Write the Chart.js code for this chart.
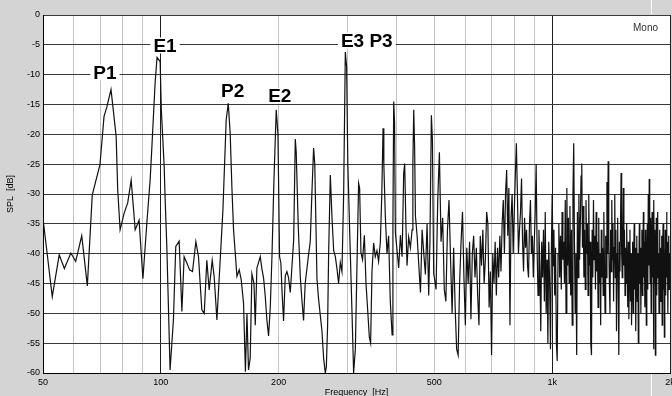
<!DOCTYPE html>
<html>
<head>
<meta charset="utf-8">
<script src="https://cdn.jsdelivr.net/npm/chart.js@4.4.1/dist/chart.umd.min.js"></script>
<style>
  html, body { margin: 0; padding: 0; background: #d4d4d4; overflow: hidden; }
</style>
</head>
<body>
<canvas id="myChart" width="672" height="396"></canvas>
<script>
  // spectrum below 500 Hz, read vertex by vertex (Hz / dB)
  var lowHz = [
    50, 52.8, 55.0, 56.7, 58.9, 60.6, 62.8, 64.9, 66.8, 69.9,
    71.6, 72.8, 74.6, 75.6, 76.9, 77.6, 78.7, 80.6, 82.3, 84.0,
    86.0, 88.0, 90.0, 92.1, 93.9, 94.8, 96.7, 97.8, 99.6, 100.3,
    102.0, 102.6, 103.6, 105.6, 107.7, 109.2, 111.4, 113.2, 114.7, 117.0,
    118.4, 120.5, 122.9, 124.8, 127.3, 129.1, 131.1, 132.9, 135.3, 136.9,
    139.1, 141.8, 144.1, 146.9, 148.7, 150.4, 151.9, 153.4, 156.5, 158.6,
    160.5, 162.7, 164.5, 166.0, 167.5, 169.2, 170.9, 173.0, 174.3, 176.0,
    179.5, 181.2, 183.0, 184.8, 186.7, 188.5, 190.4, 192.3, 194.5, 197.2,
    199.2, 201.1, 202.7, 203.9, 205.9, 208.0, 210.0, 212.0, 214.2, 218.5,
    220.6, 221.8, 224.5, 227.2, 229.4, 231.6, 233.8, 238.5, 240.9, 243.2,
    245.7, 247.4, 250.6, 252.9, 255.5, 258.1, 260.6, 263.2, 264.8, 266.8,
    268.4, 271.1, 273.8, 276.5, 279.2, 282.0, 284.6, 287.5, 290.3, 293.2,
    296.1, 298.4, 300.5, 305.0, 308.0, 310.9, 314.1, 317.1, 320.2, 322.1,
    324.6, 327.7, 331.2, 334.4, 337.7, 341.0, 343.6, 346.4, 349.8, 353.2,
    356.7, 360.1, 363.9, 367.0, 369.7, 371.4, 374.7, 378.4, 382.0, 385.8,
    389.9, 391.8, 393.6, 395.6, 397.5, 401.5, 405.3, 409.4, 413.5, 417.4,
    419.9, 422.8, 425.7, 429.8, 434.2, 438.6, 440.6, 442.8, 445.1, 447.3,
    451.7, 456.1, 460.7, 465.2, 469.8, 474.3, 479.0, 483.6, 487.1, 491.3,
    494.3, 498.0
  ];
  var lowDb = [
    -34.1, -47.2, -40.2, -42.5, -39.9, -41.3, -37.0, -45.4, -30.2, -25.1,
    -17.0, -15.4, -12.5, -15.9, -20.4, -29.3, -36.0, -33.2, -31.5, -27.7,
    -36.0, -34.4, -44.2, -34.9, -27.7, -22.6, -11.4, -7.1, -7.8, -15.9,
    -25.4, -31.0, -38.8, -59.5, -51.1, -38.8, -37.9, -49.7, -40.5, -41.8,
    -42.7, -43.0, -38.0, -40.5, -49.4, -50.0, -41.1, -46.1, -41.1, -43.9,
    -51.1, -41.1, -32.7, -17.6, -14.8, -19.8, -28.8, -36.0, -43.8, -42.7,
    -44.4, -48.3, -59.8, -50.0, -59.5, -57.5, -43.4, -45.0, -52.0, -42.4,
    -40.5, -42.5, -44.0, -47.0, -51.2, -53.8, -49.0, -40.5, -28.0, -15.9,
    -20.0, -40.5, -41.6, -45.9, -51.3, -43.7, -43.0, -44.0, -46.5, -37.7,
    -20.8, -23.0, -35.5, -43.9, -47.8, -51.2, -45.0, -40.2, -38.0, -30.0,
    -22.3, -25.0, -44.2, -47.5, -50.3, -53.0, -57.5, -60.0, -59.0, -52.0,
    -40.0, -26.8, -34.0, -39.5, -40.5, -42.6, -45.0, -41.5, -43.0, -30.0,
    -6.2, -8.7, -25.0, -40.2, -50.0, -60.0, -56.0, -42.0, -28.2, -29.0,
    -39.8, -41.0, -36.9, -45.0, -49.4, -54.0, -55.0, -43.0, -38.2, -40.5,
    -39.5, -41.3, -38.0, -30.0, -19.0, -25.0, -33.8, -40.0, -37.0, -48.0,
    -53.6, -35.0, -14.5, -18.0, -36.5, -39.5, -42.4, -36.9, -40.5, -26.6,
    -24.9, -35.0, -42.0, -37.2, -39.0, -36.0, -25.0, -15.9, -22.0, -33.7,
    -37.0, -41.8, -46.5, -36.0, -40.0, -43.5, -35.0, -47.0, -38.0, -16.8,
    -21.0, -43.4
  ];

  // 500 Hz .. 2 kHz, one FFT bin every 5 Hz
  var highStartHz = 500;
  var highStepHz = 5;
  var highDb = [
    -44, -46, -31, -23, -38, -34, -46, -48, -36, -31, -41, -50, -39, -49, -56, -57, -45, -38, -33, -44,
    -52, -39, -45, -38, -51, -40, -37, -44, -39, -47, -52, -37, -42, -36, -45, -41, -33, -35, -49, -43,
    -57, -40, -45, -38, -47, -39, -44, -37, -43, -35, -31, -40, -30, -26, -37, -29, -52, -34, -30, -40,
    -33, -27, -21.5, -30, -40, -36, -33, -27.4, -38, -43, -34, -39, -36, -42, -44, -35, -31, -40, -37, -44,
    -38, -33, -25, -39, -47, -36, -42, -53, -38, -44, -36, -48, -33, -50, -41, -55, -38, -45, -56, -40,
    -30, -42, -36, -47, -39, -55, -58, -40, -35, -44, -37, -46, -33, -41, -38, -45, -31, -50, -29, -42,
    -34, -45, -32, -47, -36, -52, -30, -21.5, -38, -50, -40, -57, -33, -44, -30, -41, -35, -27, -24.9, -39,
    -32, -44, -36, -46, -31, -40, -35, -47, -30, -42, -38, -55, -57, -36, -44, -31, -41, -37, -46, -33,
    -43, -38, -49, -34, -45, -40, -52, -36, -44, -39, -47, -33, -42, -50, -37, -44, -28, -40, -24.5, -38,
    -45, -50, -36, -43, -31, -41, -35, -48, -39, -30, -44, -36, -53, -40, -34, -46, -57, -38, -43, -35,
    -26.5, -40, -44, -37, -29, -42, -36, -47, -39, -45, -35, -43, -49, -38, -51, -42, -36, -48, -40, -52,
    -44, -38, -50, -41, -35, -46, -39, -53, -42, -37, -48, -40, -55, -43, -35, -45, -39, -50, -41, -36,
    -47, -40, -33, -44, -38, -49, -36, -43, -52, -41, -35, -46, -30, -42, -27.5, -39, -45, -34, -50, -40,
    -33, -44, -38, -56, -31, -45, -36, -57, -42, -34, -47, -39, -33, -44, -40, -50, -36, -43, -48, -39,
    -45, -37, -52, -41, -35, -46, -39, -54, -42, -36, -47, -40, -33, -44, -38, -50, -41, -37, -46, -40,
    -43
  ];

  // axis
  var gridHz = [50, 60, 70, 80, 90, 100, 200, 300, 400, 500, 600, 700, 800, 900, 1000, 2000];
  var tickLabels = { 50: '50', 100: '100', 200: '200', 500: '500', 1000: '1k', 2000: '2k' };
  var darkHz = [100, 1000, 2000];
  var cursorHz = 1786;

  // peak names written over the trace
  var peakLabels = [
    { text: 'P1', hz: 72, db: -9.6 },
    { text: 'E1', hz: 102.5, db: -5.1 },
    { text: 'P2', hz: 152.6, db: -12.7 },
    { text: 'E2', hz: 201.4, db: -13.5 },
    { text: 'E3 P3', hz: 336, db: -4.3 }
  ];

  var points = [];
  for (var i = 0; i < lowHz.length; i++) {
    points.push({ x: lowHz[i], y: lowDb[i] });
  }
  for (var j = 0; j < highDb.length; j++) {
    points.push({ x: highStartHz + j * highStepHz, y: highDb[j] });
  }

  var frame = {
    id: 'frame',
    beforeDraw: function(chart) {
      var c = chart.ctx, a = chart.chartArea;
      c.save();
      c.fillStyle = '#d4d4d4';
      c.fillRect(0, 0, chart.width, chart.height);
      c.fillStyle = '#ffffff';
      c.fillRect(a.left, a.top, a.right - a.left, a.bottom - a.top);
      c.restore();
    },
    afterDatasetsDraw: function(chart) {
      var c = chart.ctx, a = chart.chartArea;
      var xs = chart.scales.x, ys = chart.scales.y;
      c.save();
      // marker cursor, only seen on the grey margins
      var cx = Math.round(xs.getPixelForValue(cursorHz)) + 0.5;
      c.strokeStyle = '#ffffff';
      c.lineWidth = 1;
      c.beginPath();
      c.moveTo(cx, 0); c.lineTo(cx, a.top - 1);
      c.moveTo(cx, a.bottom + 1); c.lineTo(cx, chart.height);
      c.stroke();

      c.font = 'bold 19px "Liberation Sans", Arial, sans-serif';
      c.textAlign = 'center';
      c.textBaseline = 'middle';
      peakLabels.forEach(function(p) {
        var px = xs.getPixelForValue(p.hz);
        var py = ys.getPixelForValue(p.db);
        var w = c.measureText(p.text).width;
        c.fillStyle = '#ffffff';
        c.fillRect(px - w / 2 - 3, py - 8, w + 6, 16);
        c.fillStyle = '#000000';
        c.fillText(p.text, px, py + 1);
      });
      c.font = '10px "Liberation Sans", Arial, sans-serif';
      c.fillStyle = '#333333';
      c.textAlign = 'right';
      c.fillText('Mono', a.right - 12, a.top + 13);
      c.restore();
    }
  };

  var ctx = document.getElementById('myChart').getContext('2d');
  var chart = new Chart(ctx, {
    type: 'line',
    data: {
      datasets: [{
        data: points,
        borderColor: '#111111',
        borderWidth: 1.2,
        pointRadius: 0,
        tension: 0,
        fill: false
      }]
    },
    plugins: [frame],
    options: {
      responsive: false,
      animation: false,
      events: [],
      layout: { padding: { top: 15, right: 2, left: 0, bottom: 0 } },
      plugins: { legend: { display: false }, tooltip: { enabled: false } },
      scales: {
        x: {
          type: 'logarithmic',
          min: 50,
          max: 2000,
          afterBuildTicks: function(s) {
            s.ticks = gridHz.map(function(v) { return { value: v }; });
          },
          afterFit: function(s) {
            s.height = 23;
            s.paddingRight = 0;
          },
          ticks: {
            autoSkip: false,
            maxRotation: 0,
            padding: 4,
            color: '#000',
            font: { family: '"Liberation Sans", Arial, sans-serif', size: 9 },
            callback: function(v) { return tickLabels[v] || ''; }
          },
          grid: {
            drawTicks: false,
            lineWidth: 1,
            color: function(c) {
              var v = c.tick ? c.tick.value : 0;
              return darkHz.indexOf(v) >= 0 ? '#1e1e1e' : '#c2c2c2';
            }
          },
          border: { color: '#000' },
          title: {
            display: true,
            text: 'Frequency  [Hz]',
            color: '#000',
            padding: { top: 0, bottom: -2 },
            font: { family: '"Liberation Sans", Arial, sans-serif', size: 9 }
          }
        },
        y: {
          min: -60,
          max: 0,
          afterFit: function(s) { s.width = 43; },
          ticks: {
            stepSize: 5,
            padding: 3,
            color: '#000',
            font: { family: '"Liberation Sans", Arial, sans-serif', size: 9 }
          },
          grid: { drawTicks: false, lineWidth: 1, color: '#3a3a3a' },
          border: { color: '#000' },
          title: {
            display: true,
            text: 'SPL  [dB]',
            color: '#000',
            padding: { top: 5, bottom: 0 },
            font: { family: '"Liberation Sans", Arial, sans-serif', size: 9 }
          }
        }
      }
    }
  });
</script>
</body>
</html>
